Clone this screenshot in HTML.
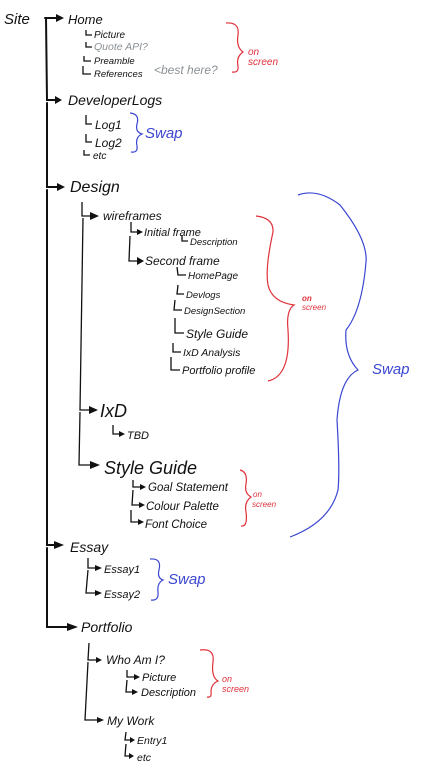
<!DOCTYPE html>
<html><head><meta charset="utf-8"><style>
html,body{margin:0;padding:0;background:#fff;}
svg{display:block}
text{font-family:"Liberation Sans",sans-serif;font-style:italic;fill:#111}
.g{fill:#8a9094}
.r{fill:#e0303a}
.b{fill:#3a46d0}
</style></head><body>
<svg width="422" height="780" viewBox="0 0 422 780" xmlns="http://www.w3.org/2000/svg">
<g stroke="#111" fill="none" stroke-width="2" stroke-linecap="round">
<!-- main spine -->
<path d="M45 18 L57 18 M46 18 L47 100 L56 100 M47 103 L47 187 L58 187 M47 190 L47 545 L56 545 M47 548 L47 627 L68 627"/>
</g>
<g stroke="#111" fill="none" stroke-width="1.3">
<!-- design sub spine -->
<path d="M82 202 L82 216 L92 216 M83 218 L80 410 L90 410 M80 412 L79 465 L92 465"/>
<!-- home kids -->
<path d="M86 30 L86 35 L92 35 M86 42 L86 47 L92 47 M84 56 L84 61 L91 61 M83 66 L83 74 L91 74"/>
<!-- dev log kids -->
<path d="M86 115 L86 124 L92 124 M86 134 L86 142 L92 142 M84 150 L84 155 L90 155"/>
<!-- wireframes -->
<path d="M131 222 L131 232 L138 232 M130 236 L129 261 L138 261 M182 235 L182 241 L188 241"/>
<path d="M177 267 L178 275 L186 275 M178 285 L177 294 L184 294 M175 300 L174 310 L182 310 M175 318 L175 333 L184 333 M173 343 L173 352 L181 352 M171 357 L171 370 L180 370"/>
<path d="M113 425 L113 434 L120 434"/>
<path d="M133 480 L133 487 L141 487 M133 490 L132 505 L140 505 M131 510 L131 522 L139 522"/>
<!-- essay -->
<path d="M88 558 L88 568 L96 568 M88 570 L86 593 L96 593"/>
<!-- portfolio -->
<path d="M89 643 L88 660 L97 660 M88 662 L85 720 L98 720 M127 670 L127 677 L135 677 M127 680 L126 692 L133 692 M126 732 L125 740 L131 740 M126 744 L125 756 L130 756"/>
</g>
<g fill="#111">
<polygon points="56,14 64,18 56,22"/><polygon points="55,96 62,100 55,104"/><polygon points="57,183 65,187 57,191"/>
<polygon points="90,212 99,216 90,220"/><polygon points="89,406 98,410 89,414"/><polygon points="90,461 100,465 90,469"/>
<polygon points="54,541 64,545 54,549"/><polygon points="67,623 78,627 67,631"/>
<polygon points="137,229 143,232 137,235"/><polygon points="137,257 144,261 137,265"/><polygon points="119,431 125,434 119,437"/>
<polygon points="140,484 146,487 140,490"/><polygon points="139,502 145,505 139,508"/><polygon points="138,519 144,522 138,525"/>
<polygon points="95,565 102,568 95,571"/><polygon points="95,590 102,593 95,596"/>
<polygon points="96,657 102,660 96,663"/><polygon points="97,717 104,720 97,723"/><polygon points="134,674 140,677 134,680"/><polygon points="132,689 138,692 132,695"/>
<polygon points="130,737 135,740 130,743"/><polygon points="129,753 134,756 129,759"/>
</g>
<g stroke="#e0303a" fill="none" stroke-width="1.2">
<path d="M226 23 Q240 22 238 35 Q236 47 243 52 Q236 57 238 66 Q239 73 232 72"/>
<path d="M256 216 Q274 218 273 232 Q265 268 268 285 Q272 302 294 305 Q286 310 288 330 Q291 376 268 381"/>
<path d="M240 470 Q248 472 246 484 Q244 493 251 497 Q244 502 246 512 Q248 527 241 526"/>
<path d="M200 650 Q215 648 213 662 Q211 677 218 681 Q211 684 211 692 Q212 698 207 697"/>
</g>
<g stroke="#3a46d0" fill="none" stroke-width="1.2">
<path d="M130 113 Q140 114 137 124 Q135 132 142 134 Q135 137 137 146 Q138 153 131 152"/>
<path d="M298 195 Q318 188 340 205 Q368 240 366 262 Q362 310 346 330 Q344 355 358 370 Q340 378 337 420 Q340 470 338 490 Q330 522 290 537"/>
<path d="M150 559 Q162 558 159 570 Q157 578 163 580 Q157 583 158 592 Q159 601 151 600"/>
</g>
<text x="4" y="24" font-size="15">Site</text>
<text x="68" y="24" font-size="13">Home</text>
<text x="94" y="38" font-size="10">Picture</text>
<text x="94" y="50" font-size="10.5" class="g">Quote API?</text>
<text x="94" y="64" font-size="9.5">Preamble</text>
<text x="94" y="77" font-size="9.5">References</text>
<text x="154" y="74" font-size="12" class="g">&lt;best here?</text>
<text x="248" y="55" font-size="10" class="r">on</text>
<text x="248" y="65" font-size="10" class="r">screen</text>
<text x="68" y="105" font-size="14">DeveloperLogs</text>
<text x="95" y="129" font-size="12">Log1</text>
<text x="95" y="147" font-size="12">Log2</text>
<text x="93" y="159" font-size="10">etc</text>
<text x="145" y="138" font-size="15" class="b">Swap</text>
<text x="70" y="192" font-size="16">Design</text>
<text x="103" y="220" font-size="12">wireframes</text>
<text x="144" y="236" font-size="11">Initial frame</text>
<text x="190" y="245" font-size="9.5">Description</text>
<text x="145" y="265" font-size="12">Second frame</text>
<text x="188" y="279" font-size="10">HomePage</text>
<text x="186" y="298" font-size="9.5">Devlogs</text>
<text x="184" y="314" font-size="9.5">DesignSection</text>
<text x="186" y="338" font-size="12">Style Guide</text>
<text x="183" y="356" font-size="10.5">IxD Analysis</text>
<text x="182" y="374" font-size="11">Portfolio profile</text>
<text x="302" y="301" font-size="8" class="r" font-weight="bold">on</text>
<text x="302" y="310" font-size="8" class="r">screen</text>
<text x="372" y="374" font-size="15" class="b">Swap</text>
<text x="100" y="417" font-size="18">IxD</text>
<text x="127" y="439" font-size="11">TBD</text>
<text x="104" y="474" font-size="18">Style Guide</text>
<text x="148" y="491" font-size="11.5">Goal Statement</text>
<text x="146" y="510" font-size="11.5">Colour Palette</text>
<text x="145" y="528" font-size="11.5">Font Choice</text>
<text x="253" y="497" font-size="8" class="r">on</text>
<text x="252" y="507" font-size="8" class="r">screen</text>
<text x="70" y="552" font-size="14">Essay</text>
<text x="104" y="573" font-size="11">Essay1</text>
<text x="104" y="598" font-size="11">Essay2</text>
<text x="168" y="584" font-size="15" class="b">Swap</text>
<text x="81" y="632" font-size="14">Portfolio</text>
<text x="106" y="664" font-size="12">Who Am I?</text>
<text x="142" y="681" font-size="11">Picture</text>
<text x="141" y="696" font-size="11">Description</text>
<text x="222" y="682" font-size="9" class="r">on</text>
<text x="222" y="692" font-size="9" class="r">screen</text>
<text x="107" y="725" font-size="12">My Work</text>
<text x="137" y="744" font-size="10.5">Entry1</text>
<text x="137" y="761" font-size="10.5">etc</text>
</svg>
</body></html>
